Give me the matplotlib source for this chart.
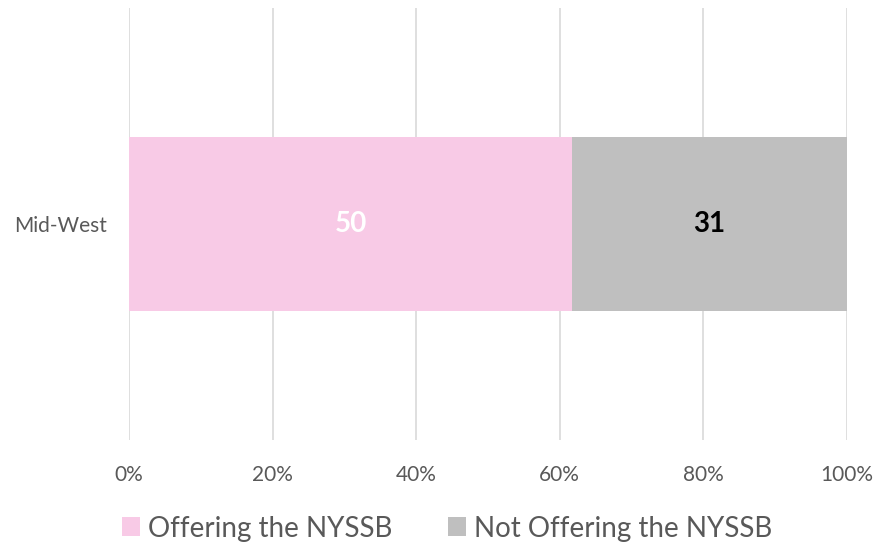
import matplotlib.pyplot as plt
import numpy as np

plt.rcParams['font.family'] = ['Lato', 'DejaVu Sans']

regions = ['Mid-West']
offering = [50]
not_offering = [31]
series_names = ['Offering the NYSSB', 'Not Offering the NYSSB']
colors = ['#F8CAE6', '#BFBFBF']
label_colors = ['white', 'black']
xticks = [0, 20, 40, 60, 80, 100]

counts = np.array([offering, not_offering], dtype=float)
shares = counts / counts.sum(axis=0) * 100

fig = plt.figure(figsize=(8.77, 5.5), dpi=100)
ax = fig.add_axes([0.1471, 0.2, 0.8187, 0.7855])

y = np.arange(len(regions))
left = np.zeros(len(regions))
for i, name in enumerate(series_names):
    bars = ax.barh(y, shares[i], left=left, height=0.405, color=colors[i],
                   label=name, zorder=3)
    for b, val in zip(bars, counts[i]):
        ax.text(b.get_x() + b.get_width() / 2, b.get_y() + b.get_height() / 2,
                f'{int(val)}', ha='center', va='center', fontsize=20,
                fontweight='bold', color=label_colors[i], zorder=4)
    left += shares[i]

ax.set_xlim(0, 100)
ax.set_ylim(-0.5, 0.5)
ax.set_xticks(xticks)
ax.set_xticklabels([f'{t}%' for t in xticks])
ax.set_yticks(y)
ax.set_yticklabels(regions)
ax.tick_params(axis='both', length=0, labelsize=15, colors='#595959')
ax.tick_params(axis='x', pad=18)
ax.tick_params(axis='y', pad=16)
ax.grid(axis='x', color='#D9D9D9', linewidth=1.2, zorder=0)
for s in ax.spines.values():
    s.set_visible(False)

fig.legend(loc='lower center', bbox_to_anchor=(0.51, -0.03), ncol=2, frameon=False,
           fontsize=20, labelcolor='#595959', handlelength=0.65, handleheight=0.65,
           handletextpad=0.3, columnspacing=2.0)

fig.savefig('out.png', dpi=100)
